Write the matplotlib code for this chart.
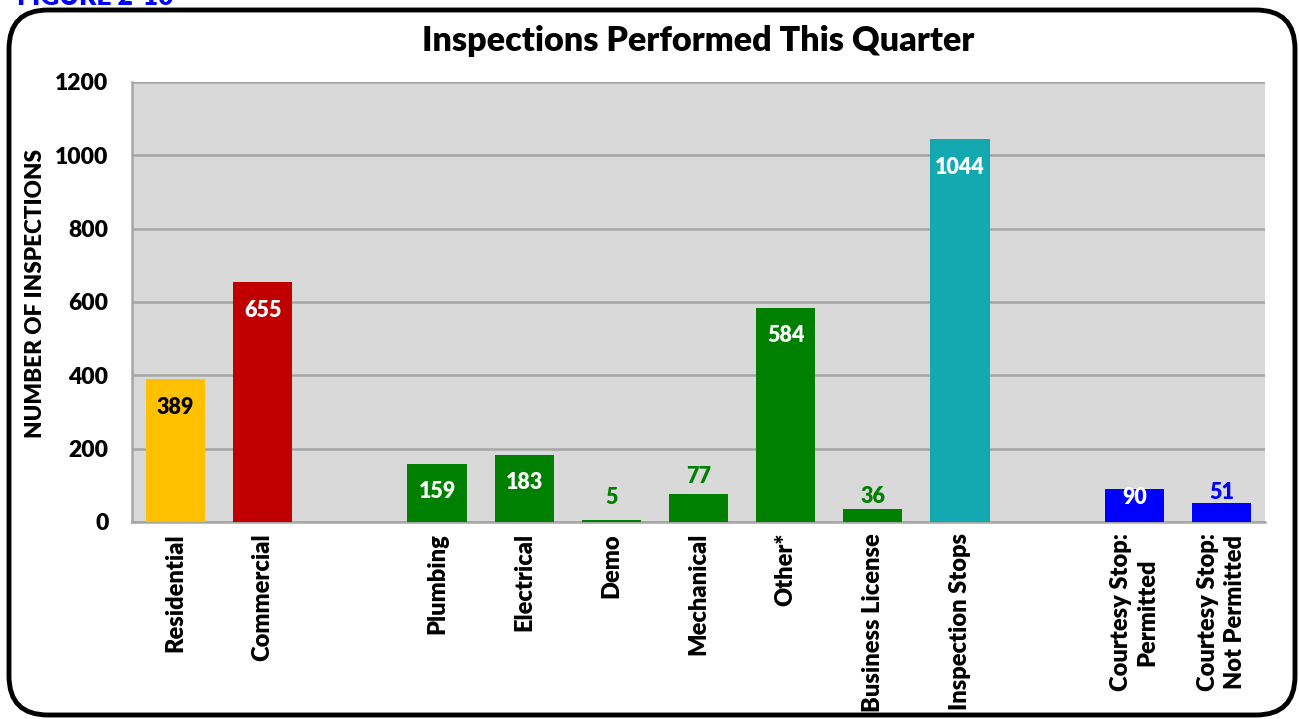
import matplotlib
matplotlib.use("Agg")
import matplotlib.pyplot as plt
from matplotlib.patches import FancyBboxPatch
import numpy as np

plt.rcParams['font.family'] = ['Lato', 'DejaVu Sans']

categories = ["Residential", "Commercial", "", "Plumbing", "Electrical", "Demo",
              "Mechanical", "Other*", "Business License", "Inspection Stops", "",
              "Courtesy Stop:\nPermitted", "Courtesy Stop:\nNot Permitted"]
values = [389, 655, np.nan, 159, 183, 5, 77, 584, 36, 1044, np.nan, 90, 51]
yticks = [0, 200, 400, 600, 800, 1000, 1200]

bar_colors = ["#FFC000", "#C00000", "none", "#008000", "#008000", "#008000",
              "#008000", "#008000", "#008000", "#14A9B0", "none", "#0000FF", "#0000FF"]
label_colors = ["black", "white", "none", "white", "white", "#008000",
                "#008000", "white", "#008000", "white", "none", "white", "#0000FF"]
# label vertical offsets in pixels relative to bar top
label_offsets = [-28, -29, 0, -28, -28, 23, 17, -28, 12, -28, 0, -8, 11]

W, H = 1299, 719
fig = plt.figure(figsize=(W / 100, H / 100), dpi=100)

# rounded border
border = FancyBboxPatch((9 / W, 4 / H), (1295 - 9) / W, (709 - 4) / H,
                        boxstyle="round,pad=0,rounding_size=0.03",
                        transform=fig.transFigure, fill=False,
                        edgecolor="black", linewidth=3.5, mutation_aspect=W / H)
fig.patches.append(border)

fig.text(17 / W, 1 - 5 / H, "FIGURE 2-10", color="#0000FF", fontsize=19,
         fontweight="heavy", ha="left", va="baseline")

ax = fig.add_axes([132 / W, 1 - 522 / H, (1265 - 132) / W, (522 - 82) / H])
ax.set_facecolor("#D9D9D9")
x = np.arange(len(categories))
ax.bar(x, values, width=0.68, color=bar_colors, zorder=3)

ax.set_xlim(-0.5, len(categories) - 0.5)
ax.set_ylim(0, 1200)
ax.set_yticks(yticks)
ax.set_yticklabels([str(t) for t in yticks], fontsize=16.5, fontweight="heavy")
ax.grid(axis="y", color="#A6A6A6", linewidth=1.8, zorder=1)
ax.tick_params(axis="both", length=0)
ax.tick_params(axis="y", pad=17)
for s in ["top", "right"]:
    ax.spines[s].set_visible(False)
for s in ["left", "bottom"]:
    ax.spines[s].set_color("#A6A6A6")
    ax.spines[s].set_linewidth(1.8)

ax.set_xticks(x)
ax.set_xticklabels(categories, rotation=90, fontsize=17, fontweight="heavy",
                   va="top", ha="center", multialignment="center", linespacing=1.25)
ax.tick_params(axis="x", pad=8)

for xi, v, c, off in zip(x, values, label_colors, label_offsets):
    if np.isnan(v):
        continue
    ax.annotate(str(int(v)), (xi, v), xytext=(0, off * 0.72), textcoords="offset points",
                ha="center", va="center", color=c, fontsize=15.5, fontweight="heavy",
                zorder=5)

ax.set_ylabel("NUMBER OF INSPECTIONS", fontsize=16.2, fontweight="heavy")
ax.yaxis.set_label_coords((46 - 132) / (1265 - 132), (522 - 294) / (522 - 82))

fig.text((132 + 1265) / 2 / W, 1 - 41 / H, "Inspections Performed This Quarter",
         ha="center", va="center", fontsize=24.6, fontweight="heavy")

fig.savefig("out.png", dpi=100)
